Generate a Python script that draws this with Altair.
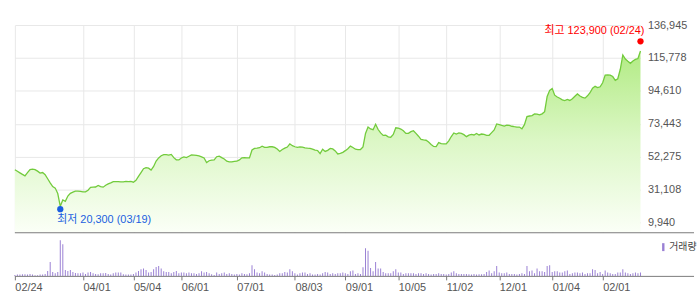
import altair as alt
import pandas as pd

# ---------------- data ----------------
HOLIDAYS = ["2020-04-15", "2020-04-30", "2020-05-01", "2020-05-05", "2020-08-17",
            "2020-09-30", "2020-10-01", "2020-10-02", "2020-10-09", "2020-12-25",
            "2020-12-31", "2021-01-01", "2021-02-11", "2021-02-12"]
dates = [d.strftime("%Y-%m-%d") for d in pd.bdate_range("2020-02-24", "2021-02-24")
         if d.strftime("%Y-%m-%d") not in HOLIDAYS]

prices = [
    43800, 42800, 41800, 40800, 39900, 42000, 43900, 44200, 43900, 42900,
    41700, 42000, 40600, 38000, 35400, 33000, 32000, 28500, 20300, 24400,
    23500, 26900, 28600, 29400, 30000, 30100, 29900, 29500, 29600, 30600,
    32500, 32600, 32700, 33700, 33000, 32600, 33800, 34700, 35400, 36200,
    36200, 36100, 36000, 36000, 36300, 36100, 36300, 35800, 37000, 39500,
    42000, 44500, 45200, 44800, 43600, 45900, 49400, 51400, 52800, 53500,
    53500, 53200, 53700, 51600, 50200, 50100, 51400, 52100, 51600, 52500,
    53300, 53150, 53000, 52700, 52100, 51400, 48400, 49600, 50000, 50150,
    52200, 52600, 51600, 50700, 49300, 48900, 48900, 49200, 49300, 50150,
    51500, 51600, 51500, 51400, 56500, 57500, 57700, 58000, 59000, 58200,
    58200, 58600, 58600, 58200, 57100, 55600, 56800, 57700, 58400, 60500,
    59300, 58600, 58200, 58500, 58400, 57900, 57700, 57600, 57100, 56500,
    56200, 54200, 57000, 55600, 56300, 57500, 57200, 55900, 54000, 54400,
    55000, 56100, 57300, 59000, 58100, 57000, 56800, 56800, 58500, 67200,
    71300, 70100, 69600, 73100, 69700, 67500, 65900, 66000, 65000, 64700,
    66500, 70800, 70600, 70000, 68900, 67200, 67200, 68300, 68900, 67200,
    65400, 63400, 63000, 62800, 61600, 60100, 58800, 58700, 61300, 60600,
    60400, 60400, 62400, 65200, 67500, 66800, 67500, 67200, 66400, 65100,
    66100, 66500, 66200, 67100, 66200, 66800, 66600, 65900, 66000, 67700,
    69400, 73300, 72800, 72300, 71900, 72500, 72300, 71800, 71500, 71300,
    71300, 70200, 72800, 78000, 78400, 78700, 79700, 79600, 79100, 79800,
    81200, 91000, 94900, 96100, 91800, 90600, 89800, 88800, 88300, 89100,
    88400, 89500, 91100, 92600, 91300, 90400, 89900, 91400, 93400, 96300,
    97500, 96700, 97200, 99800, 104700, 104800, 104700, 103800, 101400, 102400,
    108500, 117700, 115100, 113600, 112300, 113800, 114800, 115400, 120200,
]

volumes = [
    30, 40, 40, 50, 50, 40, 60, 40, 20, 20,
    40, 40, 60, 150, 420, 120, 80, 120, 1080, 960,
    180, 150, 180, 120, 90, 80, 80, 100, 60, 100,
    120, 80, 60, 50, 80, 80, 90, 60, 40, 80,
    100, 100, 100, 50, 40, 40, 40, 60, 100, 150,
    200, 220, 180, 100, 120, 200, 270, 300, 220, 140,
    120, 120, 80, 120, 150, 80, 100, 100, 80, 100,
    80, 80, 60, 80, 140, 100, 120, 80, 50, 30,
    100, 60, 80, 100, 60, 80, 60, 40, 60, 40,
    80, 60, 50, 80, 320, 200, 100, 80, 140, 100,
    60, 40, 40, 30, 40, 80, 80, 120, 100, 200,
    140, 80, 40, 80, 100, 100, 60, 80, 40, 40,
    60, 40, 80, 120, 100, 60, 80, 60, 80, 80,
    100, 80, 60, 140, 160, 60, 80, 60, 260, 840,
    760, 240, 140, 420, 220, 220, 120, 80, 80, 80,
    140, 200, 100, 100, 60, 80, 80, 80, 80, 60,
    80, 80, 60, 80, 60, 40, 60, 60, 80, 60,
    60, 40, 60, 100, 140, 80, 60, 60, 60, 60,
    50, 40, 60, 40, 50, 50, 60, 120, 160, 80,
    140, 300, 100, 80, 80, 100, 60, 60, 60, 40,
    60, 80, 60, 300, 140, 160, 80, 220, 140, 140,
    120, 300, 320, 120, 140, 140, 100, 100, 140, 160,
    60, 80, 100, 100, 80, 100, 60, 80, 80, 200,
    180, 80, 120, 60, 160, 100, 80, 60, 60, 100,
    100, 200, 100, 80, 60, 80, 100, 80, 100,
]

tick_dates = ["2020-02-24", "2020-04-01", "2020-05-04", "2020-06-01", "2020-07-01",
              "2020-08-03", "2020-09-01", "2020-10-05", "2020-11-02", "2020-12-01",
              "2021-01-04", "2021-02-01"]
y_ticks = [9940, 31108, 52275, 73443, 94610, 115778, 136945]
Y_MIN = 3561

low_date, low_value = "2020-03-19", 20300
high_date, high_value = "2021-02-24", 123900
volume_name = "거래량"

# ---------------- frames ----------------
df = pd.DataFrame({"date": dates, "price": prices, "volume": volumes, "series": volume_name})
low_df = pd.DataFrame({"date": [low_date], "price": [low_value],
                       "label": [f"최저 {low_value:,} ({low_date[5:7]}/{low_date[8:10]})"]})
high_df = pd.DataFrame({"date": [high_date], "price": [high_value],
                        "label": [f"최고 {high_value:,} ({high_date[5:7]}/{high_date[8:10]})"]})

FONT = "Liberation Sans, Noto Sans CJK KR"
W = 631
H_PRICE = 209
H_VOL = 40

x_scale = alt.Scale(type="point", padding=0, domain=dates)
x_price = alt.X("date:O", scale=x_scale,
                axis=alt.Axis(values=tick_dates, labels=False, ticks=False, domain=False,
                              grid=True, gridColor="#e8e8e8", title=None))
y_price = alt.Y("price:Q", scale=alt.Scale(domain=[Y_MIN, 136945], nice=False, zero=False),
                axis=alt.Axis(orient="right", values=y_ticks, labelExpr="format(datum.value, ',')",
                              grid=True, gridColor="#e8e8e8", domain=False, ticks=False,
                              tickSize=0, labelPadding=7, title=None))

gradient = alt.Gradient(gradient="linear",
                        stops=[alt.GradientStop(color="#fbfff7", offset=0),
                               alt.GradientStop(color="#dcf7c6", offset=0.5),
                               alt.GradientStop(color="#b2eb84", offset=1)],
                        x1=1, x2=1, y1=1, y2=0)

area = alt.Chart(df).mark_area(fill=gradient).encode(x=x_price, y=y_price, y2=alt.datum(Y_MIN))
line = alt.Chart(df).mark_line(color="#72cb3c", strokeWidth=1.3).encode(x=x_price, y=y_price)

low_pt = alt.Chart(low_df).mark_circle(color="#1a5ee0", size=40, opacity=1, yOffset=3).encode(
    x=x_price, y=y_price)
low_txt = alt.Chart(low_df).mark_text(color="#1a5ee0", font=FONT, fontSize=11, align="left",
                                      baseline="middle", dx=-3, dy=13.5).encode(
    x=x_price, y=y_price, text="label:N")
high_pt = alt.Chart(high_df).mark_circle(color="#ff0000", size=40, opacity=1, yOffset=-4).encode(
    x=x_price, y=y_price)
high_txt = alt.Chart(high_df).mark_text(color="#ff0000", font=FONT, fontSize=11, align="right",
                                        baseline="middle", dx=4, dy=-14.5).encode(
    x=x_price, y=y_price, text="label:N")

price_border = alt.Chart(df.head(1)).mark_rule(color="#7a7a7a", strokeWidth=1).encode(
    x=alt.value(0), x2=alt.value(685), y=alt.value(H_PRICE + 0.5))

price_chart = alt.layer(area, line, price_border, low_pt, low_txt, high_pt, high_txt).properties(
    width=W, height=H_PRICE)

x_vol = alt.X("date:O", scale=x_scale,
              axis=alt.Axis(values=tick_dates, grid=False, domain=False, ticks=True, tickSize=4,
                            tickColor="#777", labelAlign="left", labelPadding=2,
                            labelAngle=0,
                            labelExpr="substring(datum.value, 5, 7) + '/' + substring(datum.value, 8, 10)",
                            title=None))

vol_bars = alt.Chart(df).mark_bar(size=1).encode(
    x=x_vol,
    y=alt.Y("volume:Q", scale=alt.Scale(domain=[0, 1200], nice=False), axis=None),
    color=alt.Color("series:N", scale=alt.Scale(range=["#9a80d4"]),
                    legend=alt.Legend(title=None, orient="none", legendX=649, legendY=219,
                                      padding=0, symbolType="M-0.3,-1L0.3,-1L0.3,1L-0.3,1Z",
                                      symbolSize=64, symbolStrokeWidth=0, labelOffset=1,
                                      labelFont=FONT, labelFontSize=10, labelColor="#444")),
)
vol_border = alt.Chart(df.head(1)).mark_rule(color="#7a7a7a", strokeWidth=1).encode(
    x=alt.value(0), x2=alt.value(685), y=alt.value(H_VOL + 0.5))

vol_chart = alt.layer(vol_bars, vol_border).properties(width=W, height=H_VOL)

chart = alt.vconcat(price_chart, vol_chart, spacing=3).properties(
    padding={"left": 12, "top": 18, "right": 0, "bottom": 0},
    background="white",
).configure_view(strokeWidth=0).configure_axis(
    labelFont="Liberation Sans", labelFontSize=11, labelColor="#555"
)

chart.save("out.html", embed_options={"renderer": "svg", "actions": False})
